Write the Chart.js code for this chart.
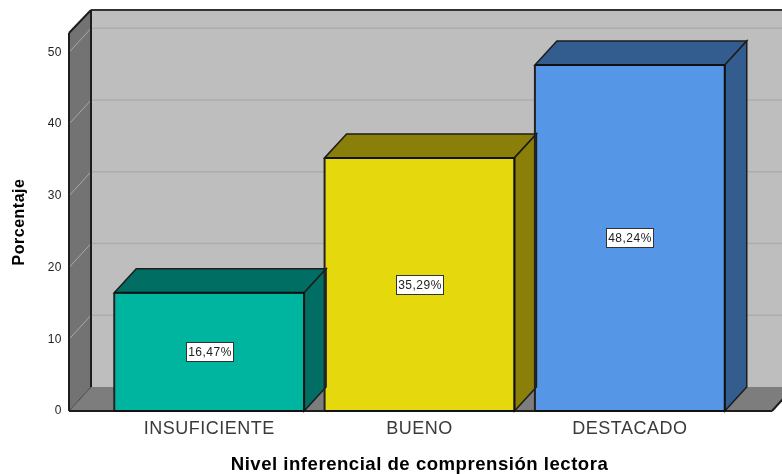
<!DOCTYPE html>
<html><head><meta charset="utf-8">
<style>html,body{margin:0;padding:0;background:#fff}#w{width:782px;height:474px;position:relative;overflow:hidden}canvas{display:block}</style>
<script src="https://cdn.jsdelivr.net/npm/chart.js@4"></script></head>
<body><div id="w"><canvas id="c" width="782" height="474"></canvas></div>
<script>
const categories = ['INSUFICIENTE', 'BUENO', 'DESTACADO'];
const percentages = [16.47, 35.29, 48.24];
const percentLabels = ['16,47%', '35,29%', '48,24%'];
const frontColors = ['#00b5a0', '#e5d90e', '#5596e6'];
const sideColors = ['#006e62', '#8a7f08', '#345d8f'];
const yTicks = [0, 10, 20, 30, 40, 50];
const yMax = 52.7;
const xTitle = 'Nivel inferencial de comprensión lectora';
const yTitle = 'Porcentaje';
const FONT = '"Liberation Sans", Arial, sans-serif';
const DX = 22, DY = 24, LEFT_EXT = 35, RIGHT_EXT = 37, EDGE = '#1d1d1d';

function poly(ctx, pts, fill, stroke, lw) {
  ctx.beginPath();
  pts.forEach((p, i) => i ? ctx.lineTo(p[0], p[1]) : ctx.moveTo(p[0], p[1]));
  ctx.closePath();
  if (fill) { ctx.fillStyle = fill; ctx.fill(); }
  if (stroke) { ctx.strokeStyle = stroke; ctx.lineWidth = lw; ctx.stroke(); }
}
function seg(ctx, x1, y1, x2, y2, color, lw) {
  ctx.beginPath(); ctx.moveTo(x1, y1); ctx.lineTo(x2, y2);
  ctx.strokeStyle = color; ctx.lineWidth = lw; ctx.stroke();
}

const walls = {
  id: 'walls',
  beforeDraw(chart) { chart.ctx.letterSpacing = '0.5px'; },
  beforeDatasetsDraw(chart) {
    const { ctx, chartArea: a, scales: { y } } = chart;
    const L = a.left - LEFT_EXT, R = a.right + RIGHT_EXT, T = a.top, B = a.bottom;
    ctx.save();
    poly(ctx, [[L + DX, T - DY + 1], [R + DX, T - DY + 1], [R + DX, B - DY], [L + DX, B - DY]], '#bebebe');
    poly(ctx, [[L, T], [L + DX, T - DY + 1], [L + DX, B - DY], [L, B]], '#737373');
    poly(ctx, [[L, B], [L + DX, B - DY], [R + DX, B - DY], [R, B]], '#7d7d7d');
    yTicks.forEach(v => {
      if (v === 0) return;
      const p = y.getPixelForValue(v);
      seg(ctx, L, p, L + DX, p - DY, '#a8a8a8', 1);
      seg(ctx, L + DX, p - DY, R + DX, p - DY, '#acacac', 1.5);
    });
    seg(ctx, L + DX, T - DY + 1, R + DX, T - DY + 1, '#333', 2);
    seg(ctx, L, B, L, T, EDGE, 2);
    seg(ctx, L, T, L + DX, T - DY + 1, EDGE, 2);
    seg(ctx, L + DX, T - DY + 1, L + DX, B - DY, EDGE, 2);
    seg(ctx, L, B, L + DX, B - DY, '#444', 1);
    seg(ctx, R, B, R + DX, B - DY, EDGE, 2);
    seg(ctx, L, B, R, B, EDGE, 2);
    ctx.restore();
  },
  afterDatasetsDraw(chart) {
    const { ctx } = chart;
    const meta = chart.getDatasetMeta(0);
    ctx.save();
    meta.data.forEach((b, i) => {
      const l = b.x - b.width / 2, r = b.x + b.width / 2, t = b.y, bt = b.base;
      ctx.lineJoin = 'miter';
      poly(ctx, [[l, t], [l + DX, t - DY], [r + DX, t - DY], [r, t]], sideColors[i], EDGE, 1.5);
      poly(ctx, [[r, t], [r + DX, t - DY], [r + DX, bt - DY], [r, bt]], sideColors[i], EDGE, 1.5);
      seg(ctx, l, t, r, t, '#111', 2);
      seg(ctx, r, t, r, bt, '#111', 2);
      seg(ctx, l, t, l, bt, '#222', 2);
      seg(ctx, l, bt, r, bt, '#111', 2);
      ctx.font = '12px ' + FONT;
      ctx.textAlign = 'center'; ctx.textBaseline = 'middle';
      const w = ctx.measureText(percentLabels[i]).width + 3, h = 19;
      const cy = (t + bt) / 2;
      const bx = Math.round(b.x - w / 2) + .5, by = Math.round(cy - h / 2) + .5;
      ctx.fillStyle = '#fff'; ctx.fillRect(bx, by, Math.round(w), h);
      ctx.strokeStyle = '#333'; ctx.lineWidth = 1; ctx.strokeRect(bx, by, Math.round(w), h);
      ctx.fillStyle = '#222';
      ctx.fillText(percentLabels[i], bx + Math.round(w) / 2, by + h / 2 + .5);
    });
    ctx.restore();
  }
};

new Chart(document.getElementById('c'), {
  type: 'bar',
  data: {
    labels: categories,
    datasets: [{ data: percentages, backgroundColor: frontColors, borderWidth: 0,
      barPercentage: 0.9026, categoryPercentage: 1 }]
  },
  options: {
    responsive: false, animation: false, devicePixelRatio: 1,
    layout: { padding: { top: 33, right: 47, bottom: 0, left: 0 } },
    plugins: { legend: { display: false }, title: { display: false }, tooltip: { enabled: false } },
    scales: {
      x: {
        grid: { display: false, drawTicks: false }, border: { display: false },
        ticks: { color: '#3a3a3a', font: { family: FONT, size: 18 }, padding: 7, maxRotation: 0 },
        title: { display: true, text: xTitle, color: '#000', font: { family: FONT, size: 18.6, weight: 'bold', lineHeight: 1 }, padding: { top: 0, bottom: 0 } },
        afterFit(s) { s.height = 63; s.paddingLeft = 0; s.paddingRight = 0; }
      },
      y: {
        min: 0, max: yMax,
        grid: { display: false, drawTicks: false }, border: { display: false },
        ticks: { color: '#222', font: { family: FONT, size: 12 }, padding: 42, stepSize: 10 },
        afterBuildTicks(s) { s.ticks = yTicks.map(v => ({ value: v })); },
        title: { display: true, text: yTitle, color: '#000', font: { family: FONT, size: 16, weight: 'bold' }, padding: { top: 10, bottom: 0 } },
        afterFit(s) { s.width = 104; s.paddingTop = 0; s.paddingBottom = 0; }
      }
    }
  },
  plugins: [walls]
});
</script></body></html>
